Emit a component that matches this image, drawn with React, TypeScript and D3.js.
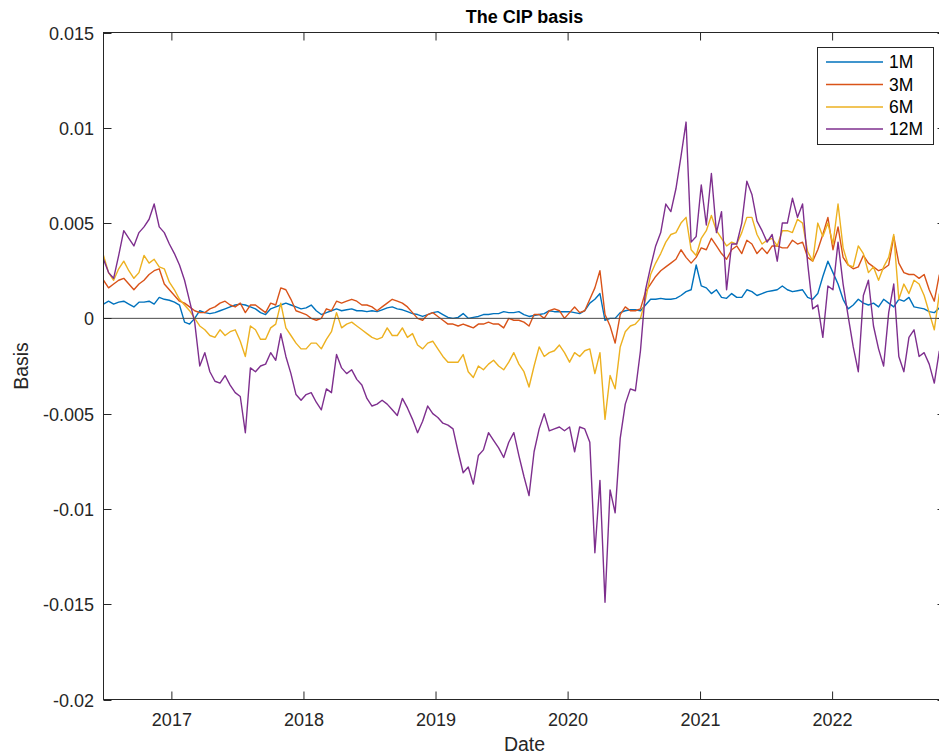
import React from 'react';
import * as d3 from 'd3';

// Sampling grid: one observation every 14 days from 26 Jun 2016
const START_DATE = new Date(2016, 5, 26);
const STEP_DAYS = 14;
// series values are read in thousandths (1e-3) of the basis
const UNIT = 1e-3;

const SERIES_NAMES = ['1M', '3M', '6M', '12M'];
const SERIES_COLORS = ['#0072BD', '#D95319', '#EDB120', '#7E2F8E'];
const Y_TICKS = [0.015, 0.01, 0.005, 0, -0.005, -0.01, -0.015, -0.02];
const X_TICK_YEARS = [2017, 2018, 2019, 2020, 2021, 2022];

const BASIS_1M = [
  0.75, 0.9, 0.75, 0.85, 0.9, 0.75, 0.6, 0.85, 0.85, 0.9,
  0.75, 1.1, 1.0, 0.95, 0.85, 0.7, -0.2, -0.3, 0.0, 0.4,
  0.3, 0.25, 0.3, 0.4, 0.5, 0.6, 0.7, 0.75, 0.7, 0.6,
  0.5, 0.3, 0.2, 0.5, 0.6, 0.7, 0.8, 0.7, 0.6, 0.5,
  0.55, 0.7, 0.4, 0.2, 0.3, 0.4, 0.5, 0.4, 0.45, 0.5,
  0.4, 0.4, 0.35, 0.4, 0.35, 0.45, 0.55, 0.6, 0.5, 0.45,
  0.35, 0.25, 0.2, 0.1, 0.2, 0.3, 0.35, 0.2, 0.05, 0.0,
  0.05, 0.25, 0.0, 0.05, 0.1, 0.2, 0.2, 0.25, 0.25, 0.35,
  0.3, 0.3, 0.35, 0.2, 0.1, 0.15, 0.2, 0.25, 0.4, 0.35,
  0.35, 0.35, 0.35, 0.3, 0.25, 0.4, 0.8, 1.0, 1.3, -0.1,
  0.0, 0.0, 0.3, 0.4, 0.45, 0.45, 0.4, 0.7, 1.0, 1.0,
  1.05, 1.0, 1.0, 1.05, 1.2, 1.4, 1.5, 2.8, 1.7, 1.6,
  1.3, 1.5, 1.1, 1.05, 1.3, 1.1, 1.1, 1.5, 1.4, 1.2,
  1.3, 1.4, 1.45, 1.5, 1.7, 1.5, 1.4, 1.45, 1.5, 1.1,
  1.0, 1.3, 2.2, 3.0, 2.4, 1.8, 1.0, 0.5, 0.7, 1.0,
  0.8, 0.7, 0.8, 0.6, 1.0, 0.8, 0.6, 1.0, 0.9, 1.1,
  0.6, 0.55, 0.5, 0.35, 0.3, 0.55,
];

const BASIS_3M = [
  2.0, 1.6, 1.8, 2.0, 2.1, 1.8, 1.5, 1.8, 2.0, 2.3,
  2.5, 2.6, 1.8, 1.5, 1.2, 0.9, 0.8, 0.6, 0.4, 0.3,
  0.3, 0.5, 0.6, 0.8, 0.9, 0.7, 0.6, 0.8, 0.3, 0.7,
  0.7, 0.5, 0.3, 0.8, 0.7, 1.6, 1.5, 1.0, 0.4, 0.3,
  0.2, 0.0, -0.1, 0.0, 0.5, 0.4, 0.9, 0.8, 0.9, 1.0,
  0.9, 0.7, 0.7, 0.6, 0.4, 0.6, 0.8, 1.0, 0.9, 0.8,
  0.6, 0.3, 0.0, -0.1, 0.2, 0.3, 0.1, -0.1, -0.3, -0.3,
  -0.4, -0.3, -0.4, -0.5, -0.3, -0.3, -0.2, -0.3, -0.3, -0.5,
  0.0, -0.1, -0.1, -0.2, -0.4, 0.2, 0.2, 0.0, 0.4, 0.5,
  0.4, 0.0, 0.3, 0.6, 0.3, 0.4, 1.0, 1.6, 2.5, 0.2,
  -0.4, -1.3, 0.2, 0.6, 0.4, 0.4, 0.5, 1.4, 1.8, 2.2,
  2.5, 2.7, 2.9, 3.1, 3.6, 3.2, 2.9, 3.2, 3.7, 3.6,
  4.2, 3.8, 3.4, 3.1, 3.6, 3.8, 3.4, 4.1, 3.9, 3.4,
  3.7, 3.4, 3.8, 3.8, 3.7, 3.7, 4.1, 3.9, 4.0, 3.2,
  3.0, 3.6, 4.4, 5.3, 3.6, 4.8, 3.2, 2.8, 2.6, 2.7,
  3.3, 2.9, 2.7, 2.5, 2.6, 2.8, 4.3, 2.9, 2.4, 2.3,
  2.3, 2.1, 2.3, 1.5, 0.9, 2.3,
];

const BASIS_6M = [
  3.3, 2.4, 2.0, 2.6, 3.0, 2.5, 2.1, 2.4, 3.3, 2.9,
  3.1, 2.7, 2.6, 1.9, 1.5, 1.0, 0.7, 0.4, 0.0, -0.4,
  -0.6, -0.9, -1.0, -0.6, -0.9, -0.7, -0.6, -1.2, -2.0, -0.4,
  -0.6, -1.1, -1.1, -0.5, -0.3, 0.8, -0.5, -0.9, -1.3, -1.6,
  -1.6, -1.3, -1.3, -1.6, -1.1, -0.7, 0.3, -0.5, -0.3, -0.2,
  -0.4, -0.6, -0.8, -1.0, -1.1, -1.0, -0.5, -0.9, -0.9, -0.5,
  -1.0, -0.8, -1.4, -1.6, -1.3, -1.2, -1.6, -2.0, -2.3, -2.3,
  -2.3, -1.9, -2.8, -3.1, -2.5, -2.7, -2.4, -2.2, -2.5, -2.7,
  -2.3, -1.8, -2.4, -2.8, -3.6, -2.5, -1.5, -2.0, -1.8, -1.7,
  -1.4, -1.8, -2.3, -1.8, -2.0, -1.7, -1.6, -2.9, -1.8, -5.3,
  -3.0, -3.7, -1.5, -0.7, -0.4, -0.3, 0.0, 1.0, 2.3, 2.9,
  3.4, 4.0, 4.4, 4.5, 5.0, 5.3, 3.6, 3.3, 4.2, 4.6,
  5.4, 4.6, 4.2, 3.8, 4.0, 3.9, 4.5, 5.3, 5.3, 4.4,
  3.9, 4.1, 4.2, 3.8, 4.6, 4.6, 4.5, 5.2, 5.0, 3.5,
  3.0, 5.0, 4.3, 5.0, 3.9, 6.0, 3.7, 2.8, 2.7, 3.8,
  3.4, 2.4, 2.7, 2.0, 2.7, 3.2, 4.4, 1.0, 1.8, 1.3,
  2.0, 1.8, 1.2, 0.3, -0.6, 1.3,
];

const BASIS_12M = [
  3.1, 2.4, 2.1, 3.3, 4.6, 4.2, 3.8, 4.5, 4.8, 5.2,
  6.0, 4.8, 4.5, 3.9, 3.4, 2.8, 2.0, 0.9, -0.2, -2.5,
  -1.8, -2.8, -3.3, -3.4, -3.0, -3.5, -3.9, -4.1, -6.0, -2.6,
  -2.8, -2.5, -2.4, -1.8, -2.2, -0.8, -2.0, -2.9, -4.0, -4.3,
  -4.0, -3.9, -4.4, -4.8, -3.7, -3.9, -1.9, -2.6, -2.9, -2.7,
  -3.2, -3.5, -4.2, -4.6, -4.5, -4.3, -4.5, -4.8, -5.1, -4.2,
  -4.7, -5.3, -6.0, -5.4, -4.6, -5.0, -5.2, -5.5, -5.6, -5.8,
  -7.0, -8.1, -7.8, -8.7, -7.2, -6.9, -6.0, -6.4, -6.8, -7.3,
  -6.5, -6.0, -7.2, -8.3, -9.3, -7.0, -5.8, -5.0, -5.9, -5.8,
  -5.7, -5.9, -5.7, -7.0, -5.7, -5.8, -6.5, -12.3, -8.5, -14.9,
  -9.0, -10.2, -6.3, -4.5, -3.7, -3.8, -1.7, 1.5, 2.7, 3.8,
  4.5, 6.0, 5.6, 6.8, 8.5, 10.3, 4.0, 4.3, 7.0, 4.9,
  7.6, 4.5, 5.6, 1.5, 3.9, 3.9, 5.0, 7.2, 6.5, 5.1,
  4.6, 4.0, 4.4, 3.0, 5.0, 5.0, 6.3, 5.3, 6.0, 2.9,
  0.5, 0.7, -1.0, 1.7, 1.5, 4.0, 1.8, 0.1, -1.5, -2.8,
  1.2, 2.0, -0.4, -1.6, -2.5, 0.3, 1.8, -2.0, -2.8, -1.0,
  -0.6, -2.0, -1.8, -2.4, -3.4, -1.7,
];

const SERIES_VALUES = [BASIS_1M, BASIS_3M, BASIS_6M, BASIS_12M];

const FONT = '"Liberation Sans", Arial, Helvetica, sans-serif';
const AXIS_COLOR = '#262626';

export default function App() {
  const W = 939;
  const H = 755;
  const left = 103.5;
  const right = 945.5;
  const top = 32.5;
  const bottom = 699.5;

  const x = d3
    .scaleTime()
    .domain([new Date(2016, 5, 26), new Date(2022, 10, 9)])
    .range([left, right]);
  const y = d3.scaleLinear().domain([-0.02, 0.015]).range([bottom, top]);

  const dates = BASIS_1M.map((_, i) => d3.timeDay.offset(START_DATE, i * STEP_DAYS));

  const line = d3
    .line<number>()
    .x((_, i) => x(dates[i]))
    .y((v) => y(v * UNIT));

  const tickLen = 8;
  const xTicks = X_TICK_YEARS.map((yr) => ({ yr, px: x(new Date(yr, 0, 1)) }));
  const fmt = (v: number) => (v === 0 ? '0' : String(v));

  const legendX = 817.5;
  const legendY = 47.5;
  const rowYs = [62, 84.5, 107, 129];

  return (
    <svg
      width={W}
      height={H}
      style={{ position: 'absolute', left: 0, top: 0, background: '#fff' }}
      fontFamily={FONT}
    >
      <rect x={0} y={0} width={W} height={H} fill="#fff" />
      <defs>
        <clipPath id="plotClip">
          <rect x={left} y={top} width={right - left} height={bottom - top} />
        </clipPath>
      </defs>

      <g clipPath="url(#plotClip)">
        {SERIES_VALUES.map((vals, k) => (
          <path
            key={SERIES_NAMES[k]}
            d={line(vals) || ''}
            fill="none"
            stroke={SERIES_COLORS[k]}
            strokeWidth={1.4}
            strokeLinejoin="round"
          />
        ))}
        <line x1={left} x2={right} y1={y(0)} y2={y(0)} stroke="#4a4a4a" strokeWidth={1} />
      </g>

      {/* axes box */}
      <rect
        x={left}
        y={top}
        width={right - left}
        height={bottom - top}
        fill="none"
        stroke={AXIS_COLOR}
        strokeWidth={1}
      />

      {/* x ticks */}
      {xTicks.map(({ yr, px }) => (
        <g key={yr}>
          <line x1={px} x2={px} y1={bottom} y2={bottom - tickLen} stroke={AXIS_COLOR} />
          <line x1={px} x2={px} y1={top} y2={top + tickLen} stroke={AXIS_COLOR} />
          <text x={px} y={726} textAnchor="middle" fontSize={18} fill={AXIS_COLOR}>
            {yr}
          </text>
        </g>
      ))}

      {/* y ticks */}
      {Y_TICKS.map((v) => {
        const py = Math.round(y(v)) + 0.5;
        return (
          <g key={v}>
            <line x1={left} x2={left + tickLen} y1={py} y2={py} stroke={AXIS_COLOR} />
            <line x1={right} x2={right - tickLen} y1={py} y2={py} stroke={AXIS_COLOR} />
            <text
              x={94}
              y={py}
              textAnchor="end"
              dominantBaseline="central"
              fontSize={18}
              fill={AXIS_COLOR}
            >
              {fmt(v)}
            </text>
          </g>
        );
      })}

      {/* title and labels */}
      <text
        x={(left + right) / 2}
        y={23}
        textAnchor="middle"
        fontSize={18}
        fontWeight="bold"
        fill="#000"
      >
        The CIP basis
      </text>
      <text x={(left + right) / 2} y={751} textAnchor="middle" fontSize={19.5} fill={AXIS_COLOR}>
        Date
      </text>
      <text
        transform={`translate(28, ${(top + bottom) / 2}) rotate(-90)`}
        textAnchor="middle"
        fontSize={19.5}
        fill={AXIS_COLOR}
      >
        Basis
      </text>

      {/* legend */}
      <g>
        <rect
          x={legendX}
          y={legendY}
          width={116}
          height={97}
          fill="#fff"
          stroke={AXIS_COLOR}
          strokeWidth={1}
        />
        {SERIES_NAMES.map((name, k) => (
          <g key={name}>
            <line
              x1={826}
              x2={883}
              y1={rowYs[k]}
              y2={rowYs[k]}
              stroke={SERIES_COLORS[k]}
              strokeWidth={1.4}
            />
            <text
              x={889}
              y={rowYs[k]}
              dominantBaseline="central"
              fontSize={17.5}
              fill="#000"
            >
              {name}
            </text>
          </g>
        ))}
      </g>
    </svg>
  );
}
